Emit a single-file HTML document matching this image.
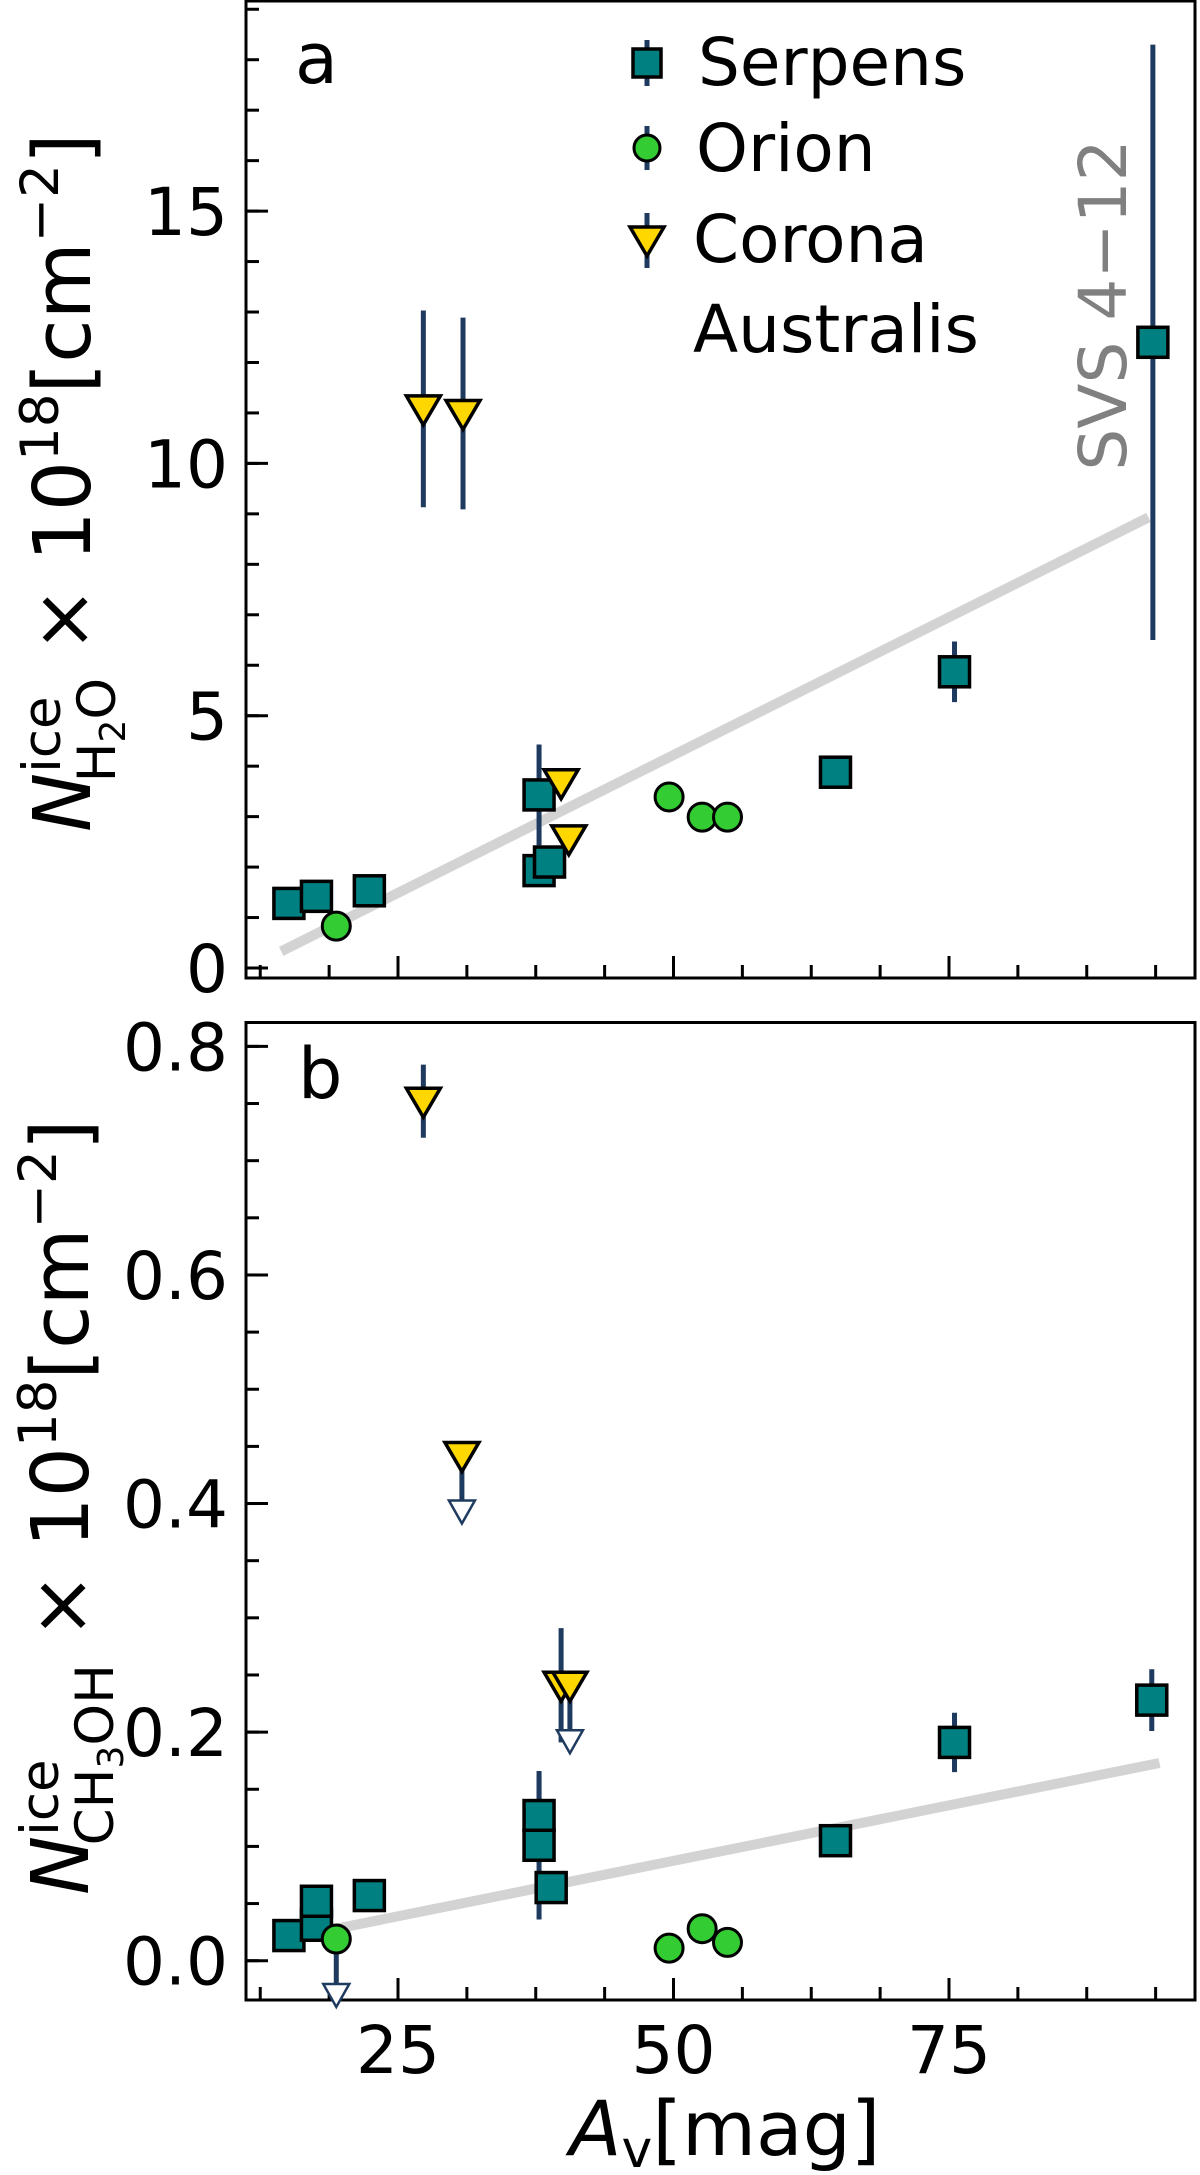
<!DOCTYPE html>
<html><head><meta charset="utf-8"><style>
html,body{margin:0;padding:0;background:#fff;}
svg{display:block;font-family:"DejaVu Sans","Liberation Sans",sans-serif;}
</style></head><body>
<svg id="fig" width="1200" height="2175" viewBox="0 0 1200 2175" xmlns="http://www.w3.org/2000/svg"></svg>
<script>
// ---- data ----
const serpA_x = [15.1, 17.6, 22.4, 37.8, 37.8, 38.75, 64.7, 75.5, 93.5];
const serpA_y = [1.28, 1.42, 1.53, 3.43, 1.93, 2.10, 3.88, 5.87, 12.4];
const serpA_e = [0, 0, 0, 1.0, 0, 0, 0, 0.6, 5.9];
const oriA_x = [19.4, 49.6, 52.6, 54.9];
const oriA_y = [0.83, 3.39, 2.99, 2.99];
const corA_x = [27.3, 30.9, 39.8, 40.5];
const corA_y = [11.08, 10.99, 3.67, 2.56];
const corA_e = [1.95, 1.9, 0, 0];
const fitA_x = [14.4, 93.1];
const fitA_y = [0.33, 8.93];

const serpB_x = [15.1, 17.6, 17.6, 22.4, 37.8, 37.8, 38.9, 64.7, 75.5, 93.4];
const serpB_y = [0.022, 0.031, 0.052, 0.057, 0.127, 0.101, 0.064, 0.105, 0.191, 0.228];
const serpB_e = [0, 0, 0, 0, 0.035, 0.065, 0, 0, 0.026, 0.027];
const oriB_x = [19.4, 49.6, 52.6, 54.9];
const oriB_y = [0.019, 0.011, 0.028, 0.016];
const oriB_ul = [true, false, false, false];
const corB_x = [27.3, 30.8, 39.8, 40.6];
const corB_y = [0.752, 0.442, 0.241, 0.241];
const corB_e = [0.032, 0, 0.05, 0];
const corB_ul = [false, true, false, true];
const fitB_x = [19.4, 94.1];
const fitB_y = [0.028, 0.173];

const xTicks = [25, 50, 75];
const yTicksA = [0, 5, 10, 15];
const yTicksB = [0.0, 0.2, 0.4, 0.6, 0.8];

// ---- scales ----
const NS = "http://www.w3.org/2000/svg";
const svg = document.getElementById('fig');
const X = v => 398 + (v - 25) * 11.02;
const YA = v => 968 - v * 50.46;
const YB = v => 1960.7 - v * 1142.9;
const L = 246, R = 1195;
const TEAL = '#008080', GREEN = '#33cc33', YEL = '#ffd700', NAVY = '#1f3a5f';

function mk(tag, attrs, parent) {
  const e = document.createElementNS(NS, tag);
  for (const k in attrs) e.setAttribute(k, attrs[k]);
  (parent || svg).appendChild(e);
  return e;
}

function panel(top, bot, Y, yTicks, yMinorStep, yMin, yMax, fmt, name) {
  const g = mk('g', {});
  
  
  for (let v = yMin; v <= yMax + 1e-9; v += yMinorStep) {
    const y = Y(v);
    if (y < top || y > bot) continue;
    mk('line', {x1: L, x2: L + 13, y1: y, y2: y, stroke: '#000', 'stroke-width': 3}, g);
  }
  yTicks.forEach(v => {
    const y = Y(v);
    mk('line', {x1: L, x2: L + 22, y1: y, y2: y, stroke: '#000', 'stroke-width': 3}, g);
    const t = mk('text', {x: 228, y: y + 24, 'text-anchor': 'end', 'font-size': 66}, g);
    t.textContent = fmt(v);
    
    
  });
  for (let v = 12.5; v <= 100; v += 6.25) {
    const x = X(v);
    if (x < L || x > R) continue;
    const major = xTicks.includes(v);
    mk('line', {x1: x, x2: x, y1: bot, y2: bot - (major ? 22 : 13), stroke: '#000', 'stroke-width': 3}, g);
  }
  const fr = mk('rect', {x: L, y: top, width: R - L, height: bot - top, fill: 'none', stroke: '#000', 'stroke-width': 3}, g);
  
  
  return g;
}

function fit(xs, ys, Y) {
  const l = mk('line', {x1: X(xs[0]), y1: Y(ys[0]), x2: X(xs[1]), y2: Y(ys[1]), stroke: '#d3d3d3', 'stroke-width': 10});
  
  
}
function errbar(x, y, e, Y) {
  if (!e) return;
  mk('line', {x1: X(x), x2: X(x), y1: Y(y - e), y2: Y(y + e), stroke: NAVY, 'stroke-width': 5});
}
function ulArrow(x, y, Y) {
  const cx = X(x), cy = Y(y);
  mk('line', {x1: cx, x2: cx, y1: cy, y2: cy + 45, stroke: NAVY, 'stroke-width': 5});
  mk('polygon', {points: `${cx-13},${cy+45} ${cx+13},${cy+45} ${cx},${cy+68}`, fill: '#fff', stroke: NAVY, 'stroke-width': 2.5});
}
function square(x, y, Y) {
  const s = mk('rect', {x: X(x) - 15, y: Y(y) - 15, width: 30, height: 30, fill: TEAL, stroke: '#000', 'stroke-width': 3.5});
  
  
}
function circle(x, y, Y) {
  const c = mk('circle', {cx: X(x), cy: Y(y), r: 14, fill: GREEN, stroke: '#000', 'stroke-width': 3});
  
  
}
function tri(cx, cy) {
  const p = mk('polygon', {points: `${cx-17},${cy-13} ${cx+17},${cy-13} ${cx},${cy+16}`, fill: YEL, stroke: '#000', 'stroke-width': 3.5});
  
  
}

// ---- panel a ----
panel(1, 978, YA, yTicksA, 1, 0, 19, v => String(v), 'panel-a');
fit(fitA_x, fitA_y, YA);
serpA_x.forEach((x, i) => errbar(x, serpA_y[i], serpA_e[i], YA));
corA_x.forEach((x, i) => errbar(x, corA_y[i], corA_e[i], YA));
serpA_x.forEach((x, i) => square(x, serpA_y[i], YA));
oriA_x.forEach((x, i) => circle(x, oriA_y[i], YA));
corA_x.forEach((x, i) => tri(X(x), YA(corA_y[i])));

// ---- panel b ----
panel(1022.5, 2000, YB, yTicksB, 0.05, -0.05, 0.85, v => v.toFixed(1), 'panel-b');
fit(fitB_x, fitB_y, YB);
serpB_x.forEach((x, i) => errbar(x, serpB_y[i], serpB_e[i], YB));
corB_x.forEach((x, i) => errbar(x, corB_y[i], corB_e[i], YB));
oriB_x.forEach((x, i) => { if (oriB_ul[i]) ulArrow(x, oriB_y[i], YB); });
corB_x.forEach((x, i) => { if (corB_ul[i]) ulArrow(x, corB_y[i], YB); });
serpB_x.forEach((x, i) => square(x, serpB_y[i], YB));
oriB_x.forEach((x, i) => circle(x, oriB_y[i], YB));
corB_x.forEach((x, i) => tri(X(x), YB(corB_y[i])));

xTicks.forEach(v => {
  const t = mk('text', {x: X(v), y: 2073, 'text-anchor': 'middle', 'font-size': 66});
  t.textContent = v;
  
  
});
</script>
<svg style="position:absolute;left:0;top:0" width="1200" height="2175" viewBox="0 0 1200 2175" xmlns="http://www.w3.org/2000/svg" font-family="DejaVu Sans, Liberation Sans, sans-serif">
  <text x="295" y="83" font-size="70">a</text>
  <text x="298" y="1098" font-size="70">b</text>
  <text transform="translate(1126,305) rotate(-90)" text-anchor="middle" font-size="66" fill="#808080">SVS 4−12</text>
  <g>
    <g>
      <line x1="647" x2="647" y1="40" y2="86" stroke="#1f3a5f" stroke-width="5"/>
      <rect x="633" y="49" width="28" height="28" fill="#008080" stroke="#000" stroke-width="3.5"/>
      <text x="698" y="85" font-size="66">Serpens</text>
    </g>
    <g>
      <line x1="647" x2="647" y1="126" y2="170" stroke="#1f3a5f" stroke-width="5"/>
      <circle cx="647" cy="148" r="13" fill="#33cc33" stroke="#000" stroke-width="3"/>
      <text x="696" y="171" font-size="66">Orion</text>
    </g>
    <g>
      <line x1="647" x2="647" y1="213" y2="268" stroke="#1f3a5f" stroke-width="5"/>
      <polygon points="630,227 664,227 647,256" fill="#ffd700" stroke="#000" stroke-width="3.5"/>
      <text x="693" y="262" font-size="66">Corona</text>
      <text x="693" y="352" font-size="66">Australis</text>
    </g>
  </g>
  <text transform="translate(90,832) rotate(-90)" text-anchor="start" font-size="79"><tspan font-style="italic">N</tspan><tspan font-size="53" dy="-30">ice</tspan><tspan font-size="53" dx="-86" dy="55">H</tspan><tspan font-size="36" dy="10">2</tspan><tspan font-size="53" dy="-10">O</tspan><tspan dy="-25"> × 10</tspan><tspan font-size="53" dy="-32">18</tspan><tspan dy="32">[cm</tspan><tspan font-size="53" dy="-32">−2</tspan><tspan dy="32">]</tspan></text>
  <text transform="translate(88,1895) rotate(-90)" text-anchor="start" font-size="79"><tspan font-style="italic">N</tspan><tspan font-size="53" dy="-30">ice</tspan><tspan font-size="53" dx="-86" dy="55">CH</tspan><tspan font-size="36" dy="10">3</tspan><tspan font-size="53" dy="-10">OH</tspan><tspan dy="-25"> × 10</tspan><tspan font-size="53" dy="-32">18</tspan><tspan dy="32">[cm</tspan><tspan font-size="53" dy="-32">−2</tspan><tspan dy="32">]</tspan></text>
  <text x="725" y="2155" text-anchor="middle" font-size="76"><tspan font-style="italic">A</tspan><tspan font-size="52" dy="12">v</tspan><tspan dy="-12">[mag]</tspan></text>
</svg>
</body></html>
